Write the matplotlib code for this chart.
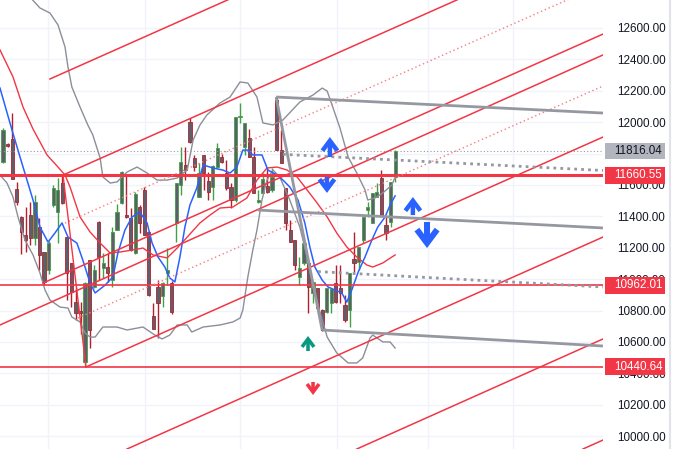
import matplotlib
matplotlib.use("Agg")
import matplotlib.pyplot as plt
from matplotlib.patches import Rectangle
from matplotlib.lines import Line2D
import matplotlib.transforms as mtransforms

# candles (daily OHLC), bar index = position
opens = [11746, 11855, 11893, 11575, 11396, 11280, 11408, 11262, 11332, 11173,
         11058, 11472, 11428, 11612, 11268, 11103, 10854, 10800, 10472, 11122,
         10950, 11364, 11071, 11077, 10994, 11313, 11485, 11408, 11389, 11166,
         11459, 11568, 11300, 10765, 10950, 10893, 11039, 10975, 11358, 11600,
         11727, 12001, 11772, 11523, 11791, 11625, 11587, 11714, 11778, 11676,
         11587, 11504, 12030, 11842, 11899, 11778, 11491, 11549, 11593, 11568,
         12141, 11822, 11580, 11313, 11249, 11014, 11103, 11103, 10912, 10943,
         10803, 10791, 10848, 10975, 10943, 10835, 10803, 11128, 11109, 11249,
         11440, 11358, 11523, 11644, 11345, 11364, 11651]
highs = [11963, 11870, 12058, 11620, 11400, 11460, 11490, 11536, 11390, 11175,
         11240, 11600, 11644, 11663, 11270, 11105, 10950, 10854, 10980, 11125,
         11090, 11370, 11166, 11166, 11332, 11480, 11690, 11657, 11453, 11555,
         11470, 11587, 11305, 10848, 10994, 10982, 11198, 10990, 11615, 11842,
         11842, 12026, 11790, 11740, 11791, 11682, 11727, 11866, 11800, 11759,
         11612, 12035, 12122, 11995, 11957, 11842, 11568, 11676, 11708, 11708,
         12160, 11950, 11580, 11377, 11249, 11141, 11230, 11103, 10982, 10943,
         10810, 10943, 10937, 11090, 11090, 10899, 11039, 11300, 11205, 11396,
         11491, 11549, 11612, 11695, 11396, 11619, 11822]
lows = [11740, 11840, 11638, 11470, 11160, 11170, 11217, 11217, 11060, 10960,
        11030, 11460, 11230, 11480, 10867, 10822, 10740, 10650, 10440.64, 10561,
        10945, 10994, 11005, 10982, 10950, 11313, 11480, 11389, 11180, 11160,
        11294, 11281, 10895, 10682, 10625, 10822, 10962, 10780, 11236, 11536,
        11630, 11870, 11690, 11520, 11568, 11504, 11504, 11710, 11740, 11568,
        11453, 11490, 11995, 11791, 11778, 11549, 11485, 11549, 11549, 11555,
        11822, 11740, 11313, 11236, 11060, 10962, 11090, 10784, 10848, 10810,
        10670, 10784, 10784, 10848, 10848, 10727, 10695, 11045, 11058, 11230,
        11396, 11358, 11523, 11408, 11249, 11330, 11619]
closes = [11950, 11850, 11640, 11490, 11300, 11250, 11262, 11491, 11154, 10982,
          11230, 11580, 11568, 11485, 11039, 10918, 10784, 10785, 10975, 10676,
          11058, 11141, 11103, 11039, 11300, 11428, 11682, 11396, 11186, 11542,
          11358, 11281, 10899, 10682, 10848, 10975, 11058, 10791, 11612, 11746,
          11695, 11873, 11714, 11676, 11676, 11555, 11721, 11835, 11746, 11580,
          11504, 12033, 12040, 11995, 11778, 11549, 11500, 11638, 11555, 11651,
          11822, 11740, 11358, 11236, 11090, 11071, 11230, 10950, 10982, 10816,
          10676, 10943, 10937, 10854, 10912, 10740, 11039, 11103, 11205, 11396,
          11459, 11549, 11555, 11408, 11294, 11619, 11816.04]

# indicator lines (bar, price)
blue_x = [-0.66, 1.97, 3.73, 5.26, 6.58, 8.11, 9.87, 11.4, 12.94, 14.25, 16.2, 17.5,
          19.1, 20.2, 22.4, 24.1, 25.2, 26.75, 28.3, 30.0, 31.6, 32.7, 34.0, 35.5,
          36.6, 37.7, 38.8, 39.9, 41.0, 42.5, 43.9, 46.05, 48.2, 49.8, 51.3, 52.6,
          53.7, 54.8, 56.8, 58.1, 60.1, 61.4, 62.9, 64.7, 66.2, 67.3, 68.4, 70.0,
          71.3, 72.8, 74.3, 75.4, 76.5, 77.9, 79.4, 80.9, 82.2, 83.8, 84.9, 86.0]
blue_y = [12217, 11950, 11778, 11631, 11504, 11332, 11236, 11294, 11358, 11268, 11230, 11122,
          10975, 10912, 10962, 11014, 11166, 11313, 11396, 11428, 11358, 11230, 11141, 11077,
          11007, 10982, 11141, 11332, 11472, 11580, 11727, 11708, 11695, 11676, 11714, 11822,
          11822, 11791, 11791, 11695, 11663, 11631, 11587, 11504, 11358, 11205, 11077, 10994,
          10950, 10931, 10912, 10854, 10931, 11045, 11141, 11249, 11332, 11396, 11472, 11530]

ma_x = [-0.66, 2.19, 4.39, 6.58, 9.65, 12.06, 13.6, 14.7, 16.9, 19.1, 21.3, 23.5, 25.7,
        28.5, 30.7, 32.9, 36.0, 38.2, 40.4, 43.2, 45.4, 47.6, 50.4, 53.5, 55.7, 57.9,
        60.1, 62.3, 64.5, 66.7, 68.9, 71.1, 73.2, 75.4, 77.6, 79.8, 81.1, 83.3, 85.3, 86.0]
ma_y = [12460, 12288, 12096, 11956, 11791, 11714, 11663, 11587, 11396, 11300, 11230, 11166, 11173,
        11186, 11198, 11154, 11135, 11198, 11268, 11358, 11408, 11453, 11459, 11517, 11631, 11708,
        11714, 11695, 11651, 11568, 11485, 11396, 11294, 11205, 11141, 11090, 11077, 11103, 11141, 11154]

up_x = [5.48, 8.11, 10.3, 12.06, 13.6, 14.25, 15.1, 16.9, 18.6, 19.7, 21.3, 21.9, 23.5,
        25.0, 27.2, 29.4, 31.6, 33.8, 36.0, 38.2, 40.4, 41.7, 43.2, 44.7, 47.6, 49.8,
        52.0, 53.7, 55.7, 57.0, 59.2, 61.4, 65.1, 68.0, 70.0, 71.1, 72.4, 73.9, 75.7,
        77.6, 79.4, 80.0, 81.6, 83.3, 85.3, 86.0]
up_y = [12810, 12727, 12695, 12619, 12479, 12351, 12224, 12096, 11982, 11918, 11772, 11651, 11612,
        11619, 11682, 11714, 11676, 11631, 11631, 11644, 11695, 11886, 11982, 12045, 12122, 12160,
        12256, 12249, 12160, 11995, 11982, 12014, 12128, 12173, 12217, 12198, 12090, 11963, 11778,
        11676, 11568, 11504, 11517, 11549, 11600, 11651]

lo_x = [-0.66, 0.88, 2.19, 3.29, 4.82, 6.58, 8.11, 9.21, 10.3, 12.5, 14.25, 15.1, 16.9,
        18.0, 19.1, 20.2, 21.9, 25.0, 27.2, 30.7, 33.3, 34.9, 36.6, 38.2, 40.4, 41.4,
        43.9, 47.6, 50.4, 52.0, 52.6, 53.7, 54.8, 55.7, 56.8, 57.9, 59.2, 60.7, 62.9,
        65.1, 66.7, 68.0, 69.5, 71.1, 73.2, 75.7, 77.6, 78.9, 80.5, 81.1, 83.3, 84.9, 86.0]
lo_y = [11663, 11612, 11523, 11396, 11249, 11154, 11039, 10931, 10867, 10822, 10816, 10759, 10727,
        10657, 10631, 10631, 10695, 10695, 10676, 10695, 10644, 10619, 10644, 10708, 10708, 10663,
        10695, 10708, 10727, 10752, 10803, 11014, 11186, 11313, 11504, 11631, 11695, 11651, 11504,
        11332, 11141, 10950, 10793, 10631, 10530, 10466, 10466, 10498, 10625, 10644, 10600, 10600, 10561]

# horizontal levels
levels = [11660.55, 10962.01, 10440.64]
last_price = 11816.04

# red parallel rays: (start bar, start price, end bar, end price, dotted)
rays = [(10.3, 12275, 131.6, 13842, False),
        (13.16, 11663, 131.6, 13192, False),
        (13.6, 11357, 131.6, 12880, True),
        (8.77, 10975, 131.6, 12561, False),
        (-0.66, 10708, 131.6, 12428, False),
        (16.4, 10752, 131.6, 12230, True),
        (18.2, 10440.64, 131.6, 11905, False),
        (27.2, 9918, 131.6, 11268, False),
        (77.6, 9918, 131.6, 10619, False),
        (127.2, 9918, 131.6, 9975, False)]
handle = [(13.16, 11663), (18.2, 10440.64)]

# gray channel drawing
gray_solid = [((59.9, 12160), (131.6, 12058)),
              ((55.9, 11440), (131.6, 11326)),
              ((70.0, 10676), (131.6, 10574)),
              ((59.9, 12160), (70.0, 10676))]
gray_dotted = [((61.4, 11795), (131.6, 11692)),
               ((69.1, 11048), (131.6, 10950))]

# arrows: bar, tail price, tip price, colour, weight
arrows = [(71.7, 11778, 11905, '#2962ff', 1.0),
          (71.05, 11651, 11549, '#2962ff', 1.0),
          (89.9, 11408, 11523, '#2962ff', 1.0),
          (93.0, 11364, 11198, '#2962ff', 1.35),
          (66.9, 10542, 10638, '#089981', 0.8),
          (68.0, 10345, 10262, '#f23645', 0.8)]

month_bars = [9.87, 31.1, 52.0, 73.2, 93.2, 111.8]
yticks = list(range(10000, 12601, 200))

RED = '#f23645'
GRAY = '#9598a1'

fig = plt.figure(figsize=(6.73, 4.49), dpi=100)
ax = fig.add_axes([0, 0, 603 / 673, 1])
ax.set_xlim(-0.66, 131.6)
ax.set_ylim(9918, 12778)
for s in ax.spines.values():
    s.set_visible(False)
ax.set_xticks([])
ax.yaxis.tick_right()
ax.set_yticks(yticks)
ax.set_yticklabels([f"{v:.2f}" for v in yticks], family='Liberation Sans')
ax.tick_params(axis='y', length=0, pad=10, labelsize=8.4, labelcolor='#131722')
ax.grid(axis='y', color='#f0f3fa', lw=1, zorder=0)
ax.set_axisbelow(True)
for b in month_bars:
    ax.axvline(b, color='#f0f3fa', lw=1, zorder=0)

# candles
for i in range(len(opens)):
    o, h, l, c = opens[i], highs[i], lows[i], closes[i]
    col = '#43a047' if c >= o else '#b2202e'
    ax.vlines(i, l, h, color=col, lw=1, zorder=2)
    bot = min(o, c)
    hgt = max(abs(c - o), 12)
    ax.bar(i, hgt, bottom=bot, width=0.7, color='#5d606b', edgecolor=col,
           lw=0.6, zorder=2.5)

# indicators
ax.plot(up_x, up_y, color='#8c8f98', lw=1, zorder=3)
ax.plot(lo_x, lo_y, color='#8c8f98', lw=1, zorder=3)
ax.plot(ma_x, ma_y, color=RED, lw=1, zorder=3)
ax.plot(blue_x, blue_y, color='#2962ff', lw=1.1, zorder=3)

# horizontal levels
ax.axhline(levels[0], color=RED, lw=2.2, zorder=4)
ax.axhline(levels[1], color=RED, lw=1.2, zorder=4)
ax.axhline(levels[2], color=RED, lw=1.2, zorder=4)
ax.axhline(last_price, color='#9598a1', lw=0.8, ls=(0, (1, 2)), zorder=4)

# red rays
for x0, y0, x1, y1, dotted in rays:
    if dotted:
        ax.plot([x0, x1], [y0, y1], color='#f77c80', lw=1, ls=(0, (1, 2)), zorder=4)
    else:
        ax.plot([x0, x1], [y0, y1], color=RED, lw=1.1, zorder=4)
ax.plot([handle[0][0], handle[1][0]], [handle[0][1], handle[1][1]], color=RED, lw=1, zorder=4)

# gray channel
for (x0, y0), (x1, y1) in gray_solid:
    ax.plot([x0, x1], [y0, y1], color=GRAY, lw=2, zorder=4.5, solid_capstyle='butt')
for (x0, y0), (x1, y1) in gray_dotted:
    ax.plot([x0, x1], [y0, y1], color=GRAY, lw=2, ls=(0, (1, 1.5)), zorder=4.5)

# arrows
for bx, p0, p1, col, w in arrows:
    ax.annotate('', xy=(bx, p1), xytext=(bx, p0),
                arrowprops=dict(arrowstyle=f'->,head_length={0.6 * w},head_width={0.45 * w}',
                                color=col, lw=3.2 * w, shrinkA=0, shrinkB=0,
                                mutation_scale=12,
                                capstyle='butt', joinstyle='miter'),
                zorder=6)

# price labels on the scale
trans = mtransforms.blended_transform_factory(ax.transAxes, ax.transData)
box_h = 108
for val, fc, tc in [(last_price, '#b2b5be', '#131722'),
                    (levels[0], RED, 'white'),
                    (levels[1], RED, 'white'),
                    (levels[2], RED, 'white')]:
    ax.add_patch(Rectangle((605 / 603, val - box_h / 2), 60 / 603, box_h, transform=trans,
                           facecolor=fc, edgecolor='none', clip_on=False, zorder=7))
    ax.text(614 / 603, val, f"{val:.2f}", transform=trans, ha='left', va='center',
            color=tc, fontsize=8.4, family='Liberation Sans', zorder=8, clip_on=False)

fig.add_artist(Line2D([670 / 673, 670 / 673], [0, 1], color='#e0e3eb', lw=1.5))

fig.savefig('out.png', dpi=100, facecolor='white')
